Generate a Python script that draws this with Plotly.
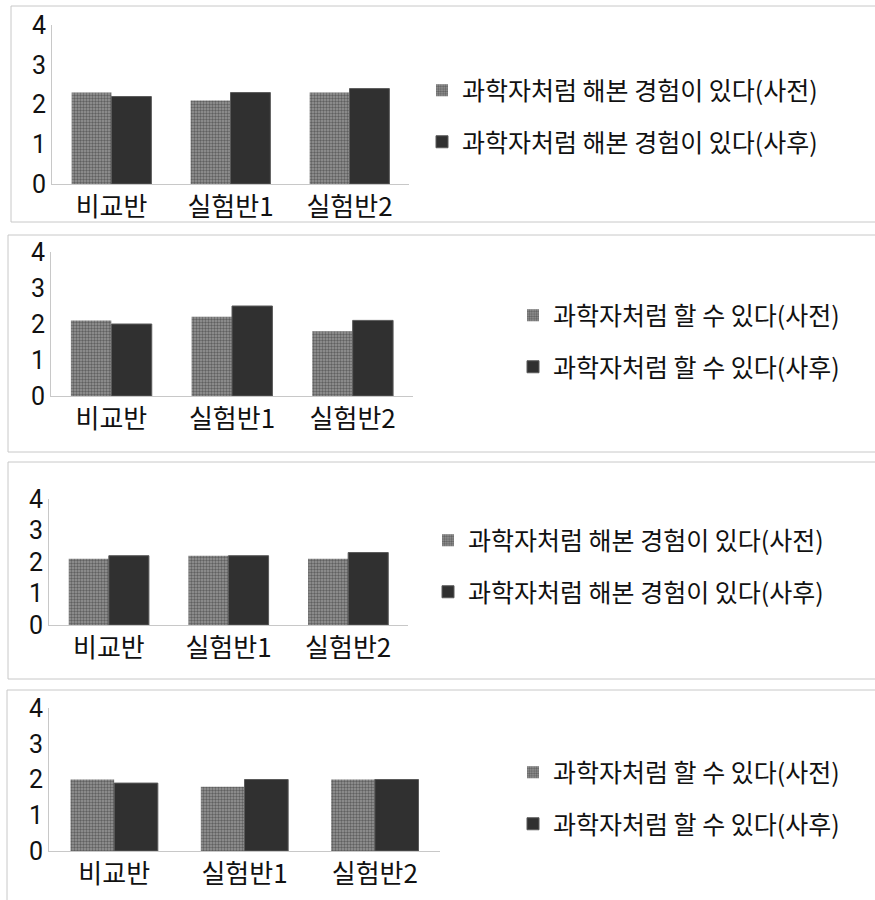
import plotly.graph_objects as go

categories = ["비교반", "실험반1", "실험반2"]

p1_pre = [2.3, 2.1, 2.3]
p1_post = [2.2, 2.3, 2.4]
p2_pre = [2.1, 2.2, 1.8]
p2_post = [2.0, 2.5, 2.1]
p3_pre = [2.1, 2.2, 2.1]
p3_post = [2.2, 2.2, 2.3]
p4_pre = [2.0, 1.8, 2.0]
p4_post = [1.9, 2.0, 2.0]

names_a = ["과학자처럼 해본 경험이 있다(사전)", "과학자처럼 해본 경험이 있다(사후)"]
names_b = ["과학자처럼 할 수 있다(사전)", "과학자처럼 할 수 있다(사후)"]

panels = [
    (p1_pre, p1_post, names_a),
    (p2_pre, p2_post, names_b),
    (p3_pre, p3_post, names_a),
    (p4_pre, p4_post, names_b),
]

W, H = 875, 900
FONT = "Noto Sans CJK KR"
NUMFONT = "Roboto, Noto Sans CJK KR"

# pixel geometry of each panel
geom = [
    dict(x0=52, x1=409, yt=25, yb=184, lx=422, ly=116, box=(11, 6, 222)),
    dict(x0=51, x1=413, yt=252, yb=396, lx=513, ly=341, box=(8, 235, 452)),
    dict(x0=49, x1=408, yt=499, yb=625, lx=428, ly=566, box=(8, 462, 679)),
    dict(x0=49, x1=440, yt=708, yb=851, lx=513, ly=798, box=(7, 690, 920)),
]

fig = go.Figure()
layout = dict(
    width=W, height=H,
    margin=dict(l=0, r=0, t=0, b=0, pad=0, autoexpand=False),
    paper_bgcolor="white", plot_bgcolor="white",
    barmode="group", bargap=0.33, bargroupgap=0,
    font=dict(family=FONT, color="#111111"),
    showlegend=True,
    shapes=[],
)

for i, ((pre, post, names), g) in enumerate(zip(panels, geom), start=1):
    xa = "x" if i == 1 else f"x{i}"
    ya = "y" if i == 1 else f"y{i}"
    lg = "legend" if i == 1 else f"legend{i}"
    fig.add_trace(go.Bar(
        x=categories, y=pre, name=names[0], xaxis=xa, yaxis=ya, legend=lg,
        legendgroup=f"g{i}a",
        marker=dict(color="#808080",
                    pattern=dict(shape=".", fgcolor="#2a2a2a", bgcolor="#979797",
                                 size=3, solidity=0.5),
                    line=dict(width=0)),
    ))
    fig.add_trace(go.Bar(
        x=categories, y=post, name=names[1], xaxis=xa, yaxis=ya, legend=lg,
        legendgroup=f"g{i}b",
        marker=dict(color="#303030", line=dict(width=1, color="#5a5a5a")),
    ))
    xk = "xaxis" if i == 1 else f"xaxis{i}"
    yk = "yaxis" if i == 1 else f"yaxis{i}"
    layout[xk] = dict(
        domain=[g["x0"] / W, g["x1"] / W], anchor=ya, automargin=False,
        showline=True, linecolor="#c8c8c8", linewidth=1,
        showgrid=False, zeroline=False, ticks="",
        tickfont=dict(family=FONT, size=26, color="#111111"),
    )
    layout[yk] = dict(
        domain=[1 - g["yb"] / H, 1 - g["yt"] / H], anchor=xa, automargin=False,
        range=[0, 4], dtick=1, tick0=0,
        showline=True, linecolor="#c8c8c8", linewidth=1,
        showgrid=False, zeroline=False, ticks="",
        tickfont=dict(family=NUMFONT, size=25, color="#111111"),
    )
    layout[lg] = dict(
        x=g["lx"] / W, y=1 - g["ly"] / H, xanchor="left", yanchor="middle",
        font=dict(family=FONT, size=25, color="#111111"),
        bgcolor="rgba(0,0,0,0)", tracegroupgap=16,
    )
    bx0, by0, by1 = g["box"]
    layout["shapes"].append(dict(
        type="rect", xref="paper", yref="paper",
        x0=bx0 / W, x1=1.02, y0=1 - by1 / H, y1=1 - by0 / H,
        line=dict(color="#c8c8c8", width=1), fillcolor="rgba(0,0,0,0)", layer="below",
    ))

fig.update_layout(**layout)
fig.write_html("out.html")
